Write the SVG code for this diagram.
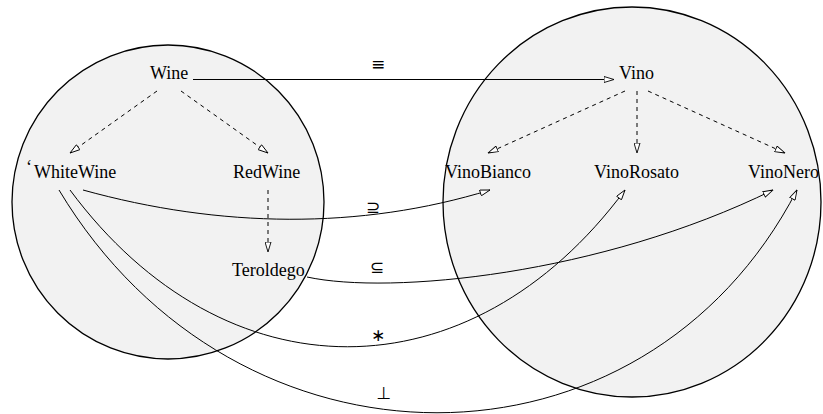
<svg xmlns="http://www.w3.org/2000/svg" width="823" height="414" viewBox="0 0 823 414">
<style>
.set{fill:#f2f2f2;stroke:#000;stroke-width:1.3}
.lbl{font-family:"Liberation Serif","Times New Roman",serif;font-size:18px;fill:#000}
.sym{font-family:"DejaVu Sans",sans-serif;font-size:17px;fill:#000;text-anchor:middle}
.e{fill:none;stroke:#000;stroke-width:1}
.d{fill:none;stroke:#000;stroke-width:1;stroke-dasharray:4,4}
</style>
<defs>
<marker id="arr" viewBox="0 0 11 7" refX="10.5" refY="3.5" markerWidth="11" markerHeight="7" markerUnits="userSpaceOnUse" orient="auto">
<path d="M0.5,0.5 L10.5,3.5 L0.5,6.5 Z" fill="#fff" stroke="#000" stroke-width="0.9"/>
</marker>
</defs>
<g id="sets">
<ellipse class="set" cx="168" cy="202" rx="156" ry="157"/>
<ellipse class="set" cx="632" cy="202" rx="189" ry="195"/>
</g>
<g id="connectors">
<path class="e" d="M193,79.5 L614,79.5" marker-end="url(#arr)"/>
<path class="d" d="M157,91 L70,153" marker-end="url(#arr)"/>
<path class="d" d="M181,91 L268,153" marker-end="url(#arr)"/>
<path class="d" d="M268,190 L268,252" marker-end="url(#arr)"/>
<path class="d" d="M625,91 L488,153" marker-end="url(#arr)"/>
<path class="d" d="M637,91 L637,153" marker-end="url(#arr)"/>
<path class="d" d="M648,91 L785,153" marker-end="url(#arr)"/>
<path class="e" d="M83,190 C220,228 360,230 490,190" marker-end="url(#arr)"/>
<path class="e" d="M307,277 C390,295 600,275 773,190" marker-end="url(#arr)"/>
<path class="e" d="M70,190 C225,399 470,399 625,190" marker-end="url(#arr)"/>
<path class="e" d="M59,190 C237,487 643,487 797,190" marker-end="url(#arr)"/>
<text class="sym" x="378" y="69.5">≡</text>
<text class="sym" x="373" y="213">⊇</text>
<text class="sym" x="377" y="273">⊆</text>
<text class="sym" x="378" y="340.5">∗</text>
<text class="sym" x="384" y="399">⊥</text>
</g>
<g id="Wine"><text class="lbl" x="150" y="79">Wine</text></g>
<g id="WhiteWine"><text class="lbl" x="26" y="173">‘</text><text class="lbl" x="34" y="178">WhiteWine</text></g>
<g id="RedWine"><text class="lbl" x="233" y="178">RedWine</text></g>
<g id="Teroldego"><text class="lbl" x="232" y="276">Teroldego</text></g>
<g id="Vino"><text class="lbl" x="619" y="79">Vino</text></g>
<g id="VinoBianco"><text class="lbl" x="445" y="178">VinoBianco</text></g>
<g id="VinoRosato"><text class="lbl" x="594" y="178">VinoRosato</text></g>
<g id="VinoNero"><text class="lbl" x="748" y="178">VinoNero</text></g>
</svg>
